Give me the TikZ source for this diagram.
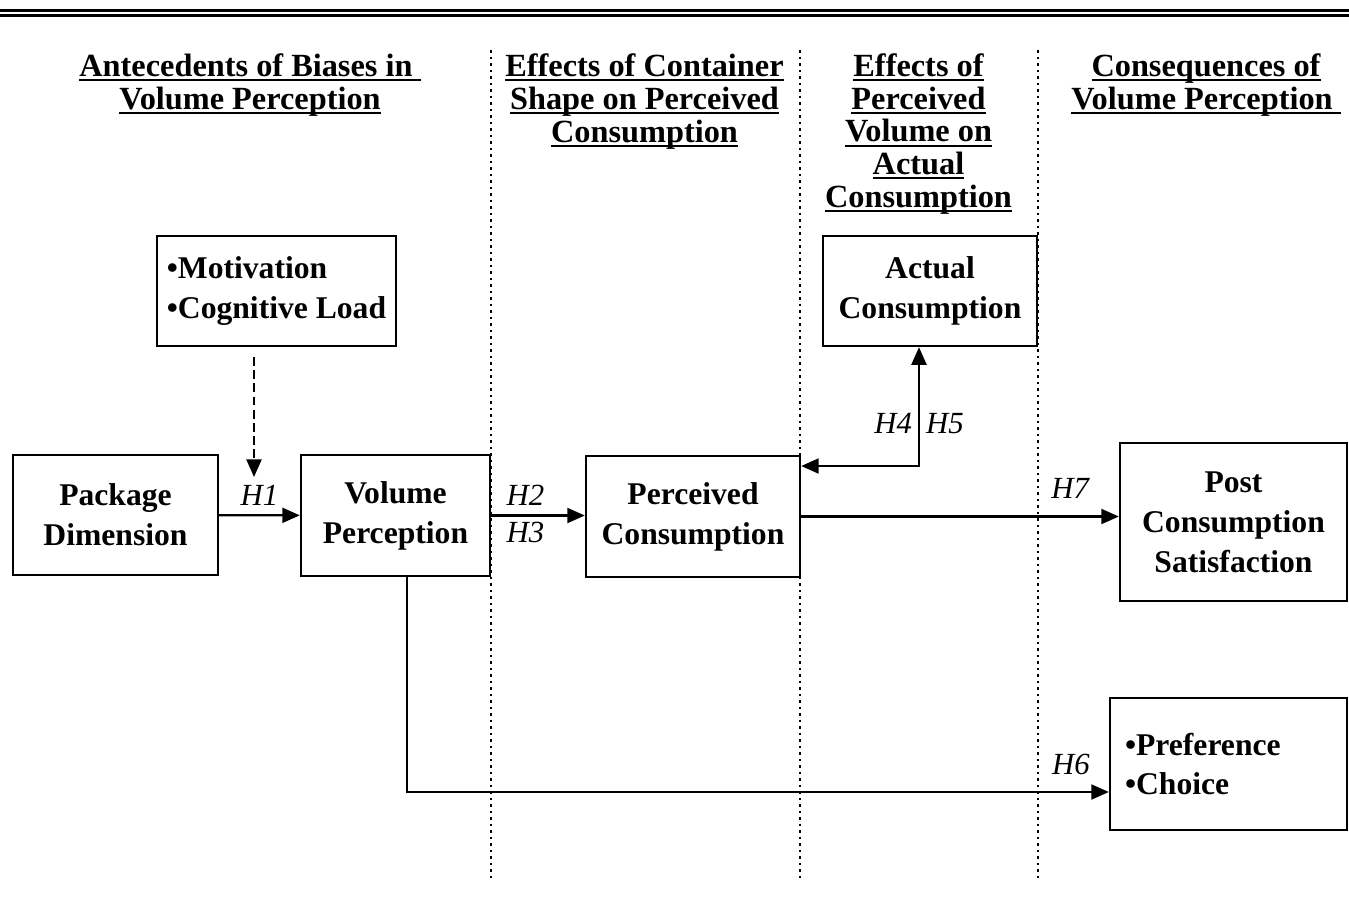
\documentclass[tikz,border=0pt]{standalone}
\usepackage{fontspec}
\setmainfont{Liberation Serif}
\usetikzlibrary{arrows.meta}
\newcommand{\uln}[1]{\setbox0\hbox{#1}\rlap{\rule[-2.6pt]{\wd0}{1.1pt}}\box0}

\begin{document}
\begin{tikzpicture}[x=0.02cm, y=-0.02cm, >={Triangle[length=10pt,width=8.5pt]},
    box/.style={draw, line width=1.35pt, align=center, inner sep=0pt,
        font=\bfseries\fontsize{18}{22.7}\selectfont},
    head/.style={align=center, font=\bfseries\fontsize{18.4}{18.6}\selectfont},
    hyp/.style={font=\itshape\fontsize{17.5}{20}\selectfont},
    link/.style={line width=1.35pt, ->},
    divider/.style={line width=1.6pt, dash pattern=on 1.5pt off 2.2pt}]
\useasboundingbox (0,0) rectangle (1349,904);
\draw[line width=1.8pt] (0,10.5) -- (1349,10.5);
\draw[line width=1.2pt] (0,15.5) -- (1349,15.5);

% column headings
\node[head] (antec) at (250,85) {\uln{Antecedents of Biases in\ }\\\uln{Volume Perception}};
\node[head] (shape) at (644.5,101.5) {\uln{Effects of Container}\\\uln{Shape on Perceived}\\\uln{Consumption}};
\node[head] (effect) at (918.5,134) {\uln{Effects of}\\\uln{Perceived}\\\uln{Volume on}\\\uln{Actual}\\\uln{Consumption}};
\node[head] (conseq) at (1206,85) {\uln{Consequences of}\\\uln{Volume Perception\ }};
\foreach \x in {491,800,1038}
    \draw[divider] (\x,50) -- (\x,878);

% boxes
\node[box, minimum width=4.78cm, minimum height=2.2cm, align=left] (motiv) at (276.5,291) {•Motivation\\•Cognitive Load};
\node[box, minimum width=4.1cm, minimum height=2.4cm] (pkg) at (115.5,515) {Package\\Dimension};
\node[box, minimum width=3.78cm, minimum height=2.42cm] (vol) at (395.5,515.5) {Volume\\Perception};
\node[box, minimum width=4.28cm, minimum height=2.42cm] (perc) at (693,516.5) {Perceived\\Consumption};
\node[box, minimum width=4.28cm, minimum height=2.2cm] (actual) at (930,291) {Actual\\Consumption};
\node[box, minimum width=4.54cm, minimum height=3.16cm] (post) at (1233.5,522) {Post\\Consumption\\Satisfaction};
\node[box, text width=4.14cm, inner xsep=0.3cm, minimum height=2.64cm, align=left] (pref) at (1228.5,764) {•Preference\\•Choice};

\coordinate (cue) at (254,357);
\coordinate (cuetip) at (254,477);
\coordinate (turn) at (919,466);
\coordinate (bend) at (407,792);

% hypotheses
\draw[link, dash pattern=on 5pt off 2.5pt] (cue) -- (cuetip);
\draw[link] (pkg) -- node[hyp, above=1.5pt] {H1} (vol);
\draw[link] (vol.east) -- node[hyp, above=1.5pt, pos=0.365] {H2} node[hyp, below, pos=0.365] {H3} (vol.east -| perc.west);
\draw[link, <->] (turn -| perc.east) -- (turn) -- node[hyp, left, pos=0.36] {H4} node[hyp, right, pos=0.36] {H5} (turn |- actual.south);
\draw[link] (perc.east) -- node[hyp, above=6pt, pos=0.847] {H7} (perc.east -| post.west);
\draw[link] (vol.south -| bend) -- (bend) -- node[hyp, above=6pt, pos=0.946] {H6} (bend -| pref.west);
\end{tikzpicture}
\end{document}
